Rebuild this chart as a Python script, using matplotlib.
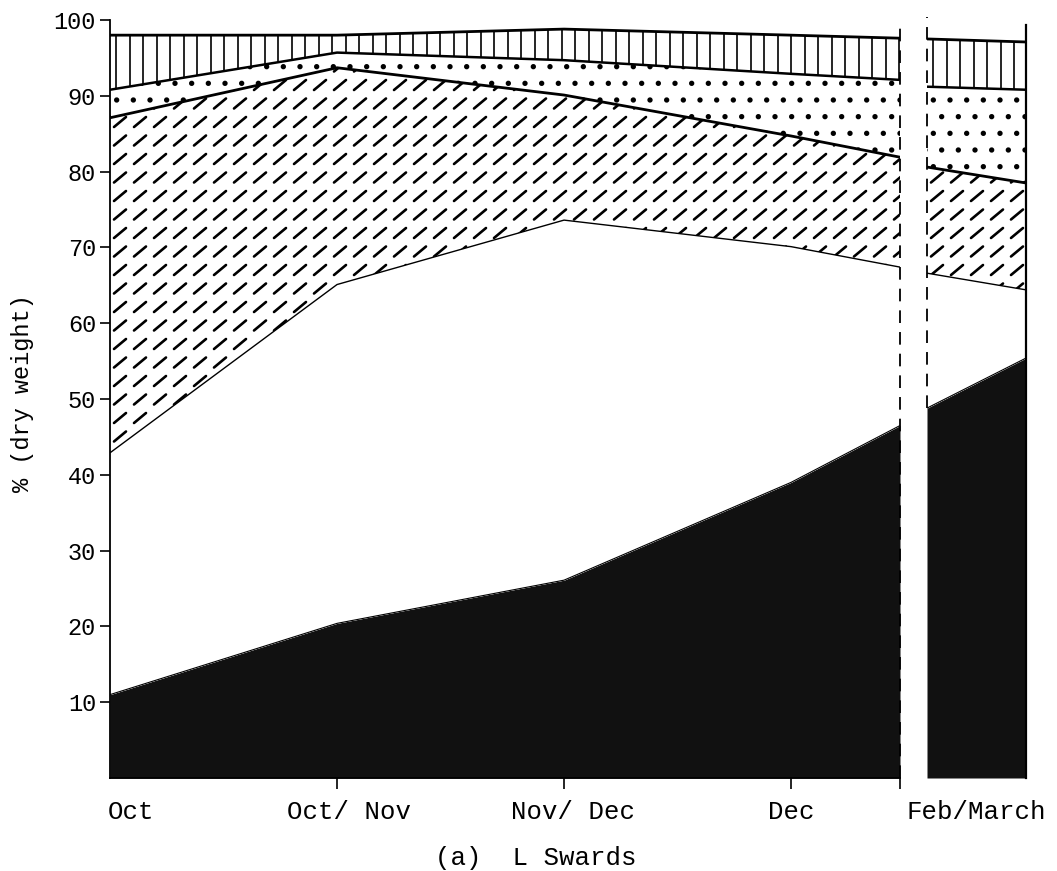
import numpy as np
import matplotlib
matplotlib.use("Agg")
import matplotlib.pyplot as plt
import matplotlib.transforms as mtransforms
from matplotlib.collections import LineCollection

# valores (% peso seco), camadas de baixo para cima
meses = ['Oct', 'Oct/ Nov', 'Nov/ Dec', 'Dec']
x_principal = [0, 1, 2, 3, 3.48]
x_fev = [0, 1]
rotulo_fev = 'Feb/March'

# painel principal (Oct -> Dec)
camada_preta = [11.0, 20.4, 26.1, 39.0, 46.5]
camada_branca = [31.9, 44.7, 47.5, 31.1, 20.9]
camada_diagonal = [44.2, 28.6, 16.5, 14.6, 14.5]
camada_pontos = [3.7, 2.0, 4.6, 8.2, 10.2]
camada_vertical = [7.2, 2.3, 4.1, 5.1, 5.5]

# painel Feb/March
fev_preta = [48.8, 55.4]
fev_branca = [17.8, 9.0]
fev_diagonal = [14.0, 14.1]
fev_pontos = [10.6, 12.3]
fev_vertical = [6.3, 6.3]

yticks = [10, 20, 30, 40, 50, 60, 70, 80, 90, 100]

FONTE = 'Liberation Mono'
plt.rcParams['font.family'] = FONTE
plt.rcParams['hatch.linewidth'] = 1.4

W, H = 1057, 871


def tracos(ax, w_px, h_px, poly):
    # textura de tracinhos diagonais, recortada pela area
    xs = np.arange(-10, w_px + 20, 20.0)
    ys = np.arange(-10, h_px + 20, 18.5)
    X, Y = np.meshgrid(xs, ys)
    X = X.ravel()
    Y = Y.ravel()
    segs = np.stack([np.column_stack([(X - 6) / w_px, (Y - 5) / h_px]),
                     np.column_stack([(X + 6) / w_px, (Y + 5) / h_px])], axis=1)
    lc = LineCollection(segs, colors='black', linewidths=1.9,
                        transform=ax.transAxes, capstyle='round')
    ax.add_collection(lc)
    lc.set_clip_path(poly.get_paths()[0], ax.transData)


def verticais(ax, w_px, poly):
    # linhas verticais mais juntas que o hatch '|'
    xs = np.arange(6, w_px, 13.5) / w_px
    segs = [[(v, 0), (v, 1)] for v in xs]
    lc = LineCollection(segs, colors='black', linewidths=1.2,
                        transform=ax.transAxes)
    ax.add_collection(lc)
    lc.set_clip_path(poly.get_paths()[0], ax.transData)


def desenhar(ax, x, camadas, w_px, h_px):
    estilos = [
        dict(fc='#111111', hatch=None, lw=0.8),
        dict(fc='white', hatch=None, lw=1.0),
        dict(fc='white', hatch='tracos', lw=2.0),
        dict(fc='white', hatch='.', lw=1.8),
        dict(fc='white', hatch='verticais', lw=2.0),
    ]
    base = np.zeros(len(x))
    for valores, est in zip(camadas, estilos):
        topo = base + np.array(valores)
        h = est['hatch'] if est['hatch'] == '.' else None
        poly = ax.fill_between(x, base, topo, facecolor=est['fc'],
                               edgecolor='black', hatch=h, linewidth=0)
        if est['hatch'] == 'tracos':
            tracos(ax, w_px, h_px, poly)
        if est['hatch'] == 'verticais':
            verticais(ax, w_px, poly)
        ax.plot(x, topo, color='black', lw=est['lw'], solid_capstyle='butt')
        base = topo


fig = plt.figure(figsize=(W / 100, H / 100), dpi=100)

ax = fig.add_axes([110 / W, 93 / H, 790 / W, 758 / H])
ax2 = fig.add_axes([927 / W, 93 / H, 99 / W, 758 / H])

desenhar(ax, x_principal,
         [camada_preta, camada_branca, camada_diagonal, camada_pontos, camada_vertical],
         790, 758)
desenhar(ax2, x_fev,
         [fev_preta, fev_branca, fev_diagonal, fev_pontos, fev_vertical],
         99, 758)

ax.set_xlim(x_principal[0], x_principal[-1])
ax.set_ylim(0, 100)
ax2.set_xlim(x_fev[0], x_fev[-1])
ax2.set_ylim(0, 100)

for s in ['top', 'right']:
    ax.spines[s].set_visible(False)
ax.spines['left'].set_linewidth(1.3)
ax.spines['bottom'].set_linewidth(1.3)
for s in ax2.spines:
    ax2.spines[s].set_visible(False)

# linhas de corte entre os paineis
ax.plot([x_principal[-1]] * 2, [0, 99.4], color='black', lw=1.3,
        ls=(0, (7, 5)), clip_on=False)
topo_fev_preta = fev_preta[0]
ax2.plot([x_fev[0]] * 2, [topo_fev_preta, 100.4], color='black', lw=1.3,
         ls=(0, (7, 5)), clip_on=False)
ax2.plot([x_fev[-1]] * 2, [0, 99.4], color='black', lw=1.6, clip_on=False)

ax.set_yticks(yticks)
ax.set_yticklabels([str(v) for v in yticks])
ax.tick_params(axis='y', direction='out', length=7, width=1.2, pad=3, labelsize=17)
ax.set_xticks(x_principal[1:])
ax.set_xticklabels([])
ax.tick_params(axis='x', direction='out', length=8, width=1.2)
ax2.set_xticks([])
ax2.set_yticks([])

# rotulos dos meses
deslocs = [0, 12, 9, 0]
for i, (m, d) in enumerate(zip(meses, deslocs)):
    trans = ax.get_xaxis_transform() + mtransforms.ScaledTranslation(d / 100, 0, fig.dpi_scale_trans)
    ax.text(x_principal[i] - (0.01 if i == 0 else 0), -0.045, m, transform=trans,
            ha='left' if i == 0 else 'center', va='center', fontsize=18.5)
ax2.text(0.5, -0.045, rotulo_fev, transform=ax2.transAxes,
         ha='center', va='center', fontsize=18.5)

fig.text(23 / W, 1 - 393 / H, '% (dry weight)', rotation=90,
         ha='center', va='center', fontsize=17)
fig.text(536 / W, 1 - 858 / H, '(a)  L Swards', ha='center', va='center',
         fontsize=18.5)

fig.savefig('out.png', dpi=100)
